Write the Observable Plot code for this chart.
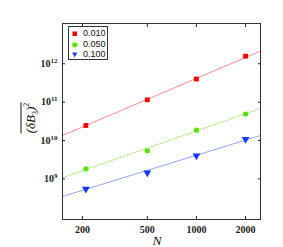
<!DOCTYPE html>
<html><head><meta charset="utf-8">
<script src="https://cdn.jsdelivr.net/npm/d3@7"></script>
<script src="https://cdn.jsdelivr.net/npm/@observablehq/plot@0.6"></script>
<style>
body{margin:0;background:#fff;}
#wrap{position:relative;width:283px;height:247px;}
#legend{position:absolute;left:68px;top:26px;width:40px;height:34px;border:1px solid #333;background:#fff;font:9px "Liberation Sans",Arial,sans-serif;color:#111;box-sizing:border-box;}
.row{position:absolute;left:0;height:11px;line-height:11px;}
.row svg{position:absolute;left:3px;top:2px;}
.row span{position:absolute;left:14px;}
#ylab{position:absolute;left:29px;top:118px;transform:translate(-50%,-50%) rotate(-90deg);transform-origin:center;font:italic 13px "Liberation Serif",serif;white-space:nowrap;color:#111;line-height:14px;}
#ylab .ov{display:inline-block;border-top:1px solid #111;padding-top:2px;line-height:14px;}
#ylab sub,#ylab sup{font-style:normal;font-size:8px;line-height:0;}
#xlab{position:absolute;left:157px;top:233px;height:13px;line-height:13px;transform:translateX(-50%);font:italic 13.5px "Liberation Serif",serif;color:#111;}
</style></head>
<body><div id="wrap"></div>
<script>
const Ns = [210, 500, 1000, 2000];
const seriesNames = ["0.010", "0.050", "0.100"];
const v010 = [2.46e10, 1.15e11, 4.0e11, 1.58e12];
const v050 = [1.82e9, 5.4e9, 1.86e10, 4.9e10];
const v100 = [5.4e8, 1.44e9, 4.0e9, 1.08e10];
const fitN = [151, 2470];
const fit010 = [1.35e10, 2.14e12];
const fit050 = [1.07e9, 6.8e10];
const fit100 = [3.47e8, 1.35e10];
const xTicks = [200, 500, 1000, 2000];
const yTicks = [1e9, 1e10, 1e11, 1e12];

const pts = (vals) => Ns.map((n, i) => ({n, v: vals[i]}));
const fit = (vals) => fitN.map((n, i) => ({n, v: vals[i]}));

const lab = {fontFamily: "Liberation Serif, serif", fontWeight: "bold", fontSize: 10};

const chart = Plot.plot({
  width: 283, height: 247,
  marginLeft: 62, marginRight: 23, marginTop: 23, marginBottom: 28,
  x: {type: "log", domain: [151, 2470], label: null},
  y: {type: "log", domain: [Math.pow(10, 7.94), Math.pow(10, 13.05)], label: null},
  style: {background: "#fff", color: "#222"},
  marks: [
    Plot.line(fit(fit010), {x: "n", y: "v", stroke: "#ff8c8c", strokeWidth: 1}),
    Plot.line(fit(fit050), {x: "n", y: "v", stroke: "#b4f08c", strokeWidth: 1}),
    Plot.line(fit(fit100), {x: "n", y: "v", stroke: "#94a4ff", strokeWidth: 1}),
    Plot.dot(pts(v010), {x: "n", y: "v", symbol: "square", r: 2.7, fill: "#ff0000", stroke: null}),
    Plot.dot(pts(v050), {x: "n", y: "v", symbol: "circle", r: 2.6, fill: "#55e600", stroke: null}),
    Plot.dot(pts(v100), {x: "n", y: "v", symbol: "triangle", rotate: 180, r: 2.9, fill: "#1438ff", stroke: null}),
    Plot.frame({stroke: "#333", strokeWidth: 1}),
    Plot.axisX({anchor: "bottom", ticks: xTicks, tickSize: -3, tickFormat: () => "", label: null}),
    Plot.axisX({anchor: "top", ticks: xTicks, tickSize: -3, tickFormat: () => "", label: null}),
    Plot.axisY({anchor: "left", ticks: yTicks, tickSize: -3, tickFormat: () => "", label: null}),
    Plot.axisY({anchor: "right", ticks: yTicks, tickSize: -3, tickFormat: () => "", label: null}),
    Plot.axisX({anchor: "bottom", ticks: xTicks, tickSize: 0, tickPadding: 6, tickFormat: d => String(d), label: null, ...lab}),
    Plot.axisY({anchor: "left", ticks: yTicks, tickSize: 0, tickPadding: 5, tickFormat: d => "10^" + Math.round(Math.log10(d)), label: null, ...lab})
  ]
});

// render superscripts in y tick labels
chart.querySelectorAll("text").forEach(t => {
  const s = t.textContent;
  if (/^10\^\d+$/.test(s)) {
    const e = s.split("^")[1];
    t.textContent = "10";
    const ts = document.createElementNS("http://www.w3.org/2000/svg", "tspan");
    ts.setAttribute("dy", "-4");
    ts.setAttribute("font-size", "7");
    ts.textContent = e;
    t.appendChild(ts);
  }
});

const wrap = document.getElementById("wrap");
wrap.appendChild(chart);

const colors = ["#ff0000", "#55e600", "#1438ff"];
const shapes = [
  '<rect x="0.5" y="1.5" width="4.5" height="4.5" fill="' + colors[0] + '"/>',
  '<circle cx="2.75" cy="3.75" r="2.6" fill="' + colors[1] + '"/>',
  '<path d="M0.2,1.6 L5.3,1.6 L2.75,6.2 Z" fill="' + colors[2] + '"/>'
];
const legend = document.createElement("div");
legend.id = "legend";
legend.innerHTML = seriesNames.map((s, i) =>
  '<div class="row" style="top:' + (1 + i * 10.7) + 'px"><svg width="6" height="8">' + shapes[i] + '</svg><span>' + s + '</span></div>'
).join("");
wrap.appendChild(legend);

const ylab = document.createElement("div");
ylab.id = "ylab";
ylab.innerHTML = '<span class="ov">(δ<i>B</i><sub>3</sub>)<sup>2</sup></span>';
wrap.appendChild(ylab);

const xlab = document.createElement("div");
xlab.id = "xlab";
xlab.textContent = "N";
wrap.appendChild(xlab);
</script>
</body></html>
